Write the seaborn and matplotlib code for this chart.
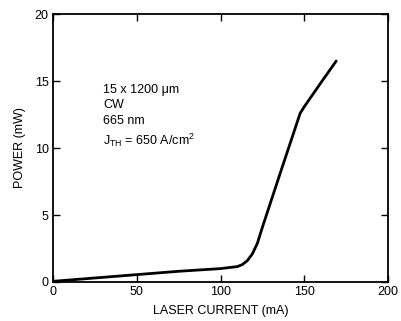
import matplotlib
matplotlib.use("Agg")
import matplotlib.pyplot as plt
import seaborn as sns
import pandas as pd

current = [0, 25, 50, 75, 100, 110, 113, 116, 119, 122, 125, 135, 147.5, 150, 160, 169]
power = [0.05, 0.3, 0.55, 0.8, 1.0, 1.15, 1.3, 1.6, 2.1, 2.9, 4.1, 7.9, 12.6, 13.1, 14.9, 16.5]
xticks = [0, 50, 100, 150, 200]
yticks = [0, 5, 10, 15, 20]

sns.set_theme(style="ticks")
plt.rcParams['font.family'] = ['Liberation Sans', 'DejaVu Sans']
plt.rcParams['text.color'] = 'black'
plt.rcParams['axes.labelcolor'] = 'black'

df = pd.DataFrame({"current": current, "power": power})
fig = plt.figure(figsize=(4.01, 3.21), dpi=100)
ax = fig.add_axes([0.132, 0.1215, 0.836, 0.8345])
sns.lineplot(data=df, x="current", y="power", ax=ax, color="black", linewidth=2)

ax.set_xlim(0, 200)
ax.set_ylim(0, 20)
ax.set_xticks(xticks)
ax.set_yticks(yticks)
ax.tick_params(direction="in", length=5, width=1, labelsize=9, colors="black", pad=3)
ax.tick_params(top=True, right=True, labeltop=False, labelright=False)
for s in ax.spines.values():
    s.set_linewidth(1.3)
    s.set_color("black")
ax.set_xlabel("LASER CURRENT (mA)", fontsize=9, labelpad=5)
ax.set_ylabel("POWER (mW)", fontsize=9, labelpad=6)

ax.text(30, 12.35, "15 x 1200 \u03bcm\nCW\n665 nm\n$\\mathregular{J_{TH}}$ = 650 A/cm$^\\mathregular{2}$",
        fontsize=9, va="center", ha="left", linespacing=1.4, color="black")

fig.savefig("out.png", dpi=100)
